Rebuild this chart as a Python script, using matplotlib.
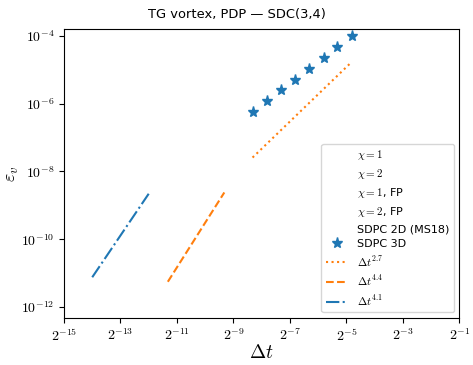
import numpy as np
import matplotlib
matplotlib.use('Agg')
import matplotlib.pyplot as plt
from matplotlib.ticker import NullLocator, FuncFormatter

plt.rcParams['mathtext.fontset'] = 'cm'
plt.rcParams['font.family'] = ['DejaVu Sans']

# SDPC 3D error vs time step
dt_3d = [1/320, 1/224, 1/160, 1/112, 1/80, 1/56, 1/40, 1/28]
err_3d = [5.75e-7, 1.23e-6, 2.5e-6, 5.0e-6, 1.02e-5, 2.14e-5, 4.57e-5, 1.0e-4]

# reference order lines (end points)
dt_o27 = [1/320, 1/28]
err_o27 = [2.57e-8, 1.7e-5]
dt_o44 = [1/2560, 1/640]
err_o44 = [5.6e-12, 2.4e-9]
dt_o41 = [1/16384, 1/4096]
err_o41 = [7.6e-12, 2.2e-9]

empty_labels = [r'$\chi=1$', r'$\chi=2$', r'$\chi=1$, FP', r'$\chi=2$, FP', 'SDPC 2D (MS18)']

fig = plt.figure(figsize=(4.73, 3.65), dpi=100)
ax = fig.add_axes([0.1353, 0.1288, 0.971 - 0.1353, 0.9197 - 0.1288])

for lab in empty_labels:
    ax.plot([], [], ls='none', label=lab)
ax.plot(dt_3d, err_3d, ls='none', marker='*', ms=8, color='C0', label='SDPC 3D')
ax.plot(dt_o27, err_o27, ls=':', color='C1', lw=1.5, label=r'$\Delta t^{2.7}$')
ax.plot(dt_o44, err_o44, ls='--', color='C1', lw=1.5, label=r'$\Delta t^{4.4}$')
ax.plot(dt_o41, err_o41, ls='-.', color='C0', lw=1.5, label=r'$\Delta t^{4.1}$')

ax.set_xscale('log', base=2)
ax.set_yscale('log')
ax.set_xlim(2**-15, 2**-1)
ax.set_ylim(10**-12.32, 10**-3.81)
ax.set_xticks([2.0**k for k in range(-15, 0, 2)])
ax.set_yticks([10.0**k for k in range(-12, -3, 2)])
ax.xaxis.set_minor_locator(NullLocator())
ax.yaxis.set_minor_locator(NullLocator())
ax.xaxis.set_major_formatter(FuncFormatter(lambda v, p: r'$2^{%d}$' % round(np.log2(v))))
ax.yaxis.set_major_formatter(FuncFormatter(lambda v, p: r'$10^{%d}$' % round(np.log10(v))))
ax.tick_params(labelsize=10)

ax.set_xlabel(r'$\Delta t$', fontsize=14, labelpad=-1)
ax.set_ylabel(r'$\varepsilon_v$', fontsize=13)
ax.yaxis.set_label_coords(-0.108, 0.5)
fig.suptitle('TG vortex, PDP — SDC(3,4)', fontsize=9.4, x=0.5, y=0.959, va='center')
ax.legend(loc='lower right', fontsize=8, labelspacing=0.45)

fig.savefig('out.png', dpi=100)
